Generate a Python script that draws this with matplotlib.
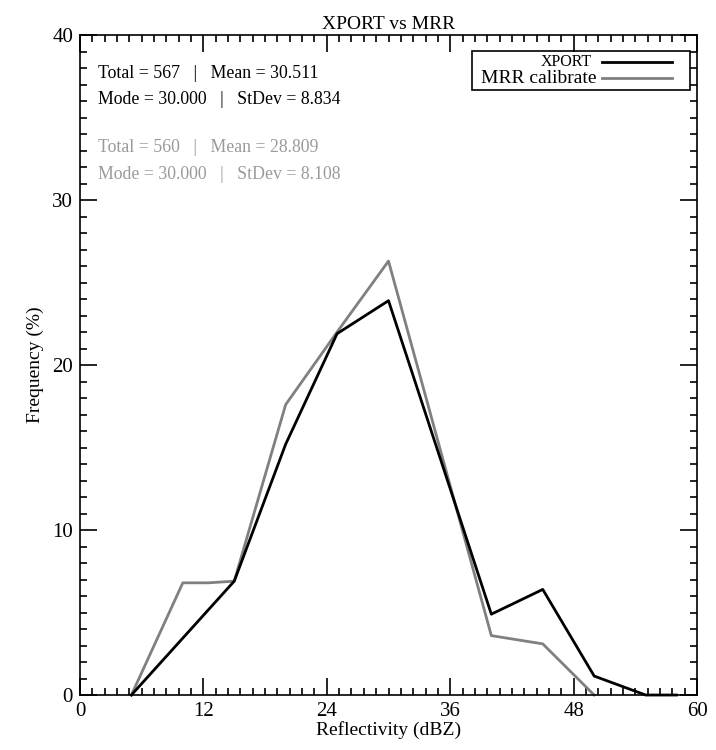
import numpy as np
import matplotlib
matplotlib.use("Agg")
import matplotlib.pyplot as plt
from matplotlib.ticker import MultipleLocator

FONT = "Liberation Serif"
matplotlib.rcParams['font.family'] = FONT
matplotlib.rcParams['axes.linewidth'] = 1.2

# XPORT (black)
x_xport = [5, 15, 20, 25, 30, 40, 45, 50, 55, 58]
f_xport = [0, 6.9, 15.2, 21.9, 23.9, 4.9, 6.4, 1.15, 0, 0]
# MRR calibrate (gray)
x_mrr = [5, 10, 12.5, 15, 20, 25, 30, 40, 45, 50]
f_mrr = [0, 6.8, 6.8, 6.9, 17.6, 22.0, 26.3, 3.6, 3.1, 0]

stats_xport = ["Total = 567   |   Mean = 30.511", "Mode = 30.000   |   StDev = 8.834"]
stats_mrr = ["Total = 560   |   Mean = 28.809", "Mode = 30.000   |   StDev = 8.108"]

GRAY = "#808080"
TXT_GRAY = "#9a9a9a"

fig = plt.figure(figsize=(7.16, 7.5), dpi=100)
ax = fig.add_axes([0.1117, 0.0733, 0.8618, 0.88])

ax.plot(x_xport, f_xport, color="black", lw=2.0, clip_on=False, zorder=3)
ax.plot(x_mrr, f_mrr, color=GRAY, lw=2.0, clip_on=False, zorder=2)

ax.set_xlim(0, 60)
ax.set_ylim(0, 40)
ax.xaxis.set_major_locator(MultipleLocator(12))
ax.xaxis.set_minor_locator(MultipleLocator(1.2))
ax.yaxis.set_major_locator(MultipleLocator(10))
ax.yaxis.set_minor_locator(MultipleLocator(1))
ax.tick_params(which="both", direction="in", top=True, right=True, width=1.2,
               labelsize=15, pad=5)
ax.tick_params(which="major", length=12)
ax.tick_params(which="minor", length=5)

ax.set_title("XPORT vs MRR", fontsize=14, pad=4)
ax.set_xlabel("Reflectivity (dBZ)", fontsize=14, labelpad=0)
ax.set_ylabel("Frequency (%)", fontsize=14, labelpad=6)

# statistics text
FS_STAT = 12.8
ax.text(0.029, 0.942, stats_xport[0], transform=ax.transAxes, fontsize=FS_STAT,
        va="center", ha="left")
ax.text(0.029, 0.903, stats_xport[1], transform=ax.transAxes, fontsize=FS_STAT,
        va="center", ha="left")
ax.text(0.029, 0.830, stats_mrr[0], transform=ax.transAxes, fontsize=FS_STAT,
        va="center", ha="left", color=TXT_GRAY)
ax.text(0.029, 0.789, stats_mrr[1], transform=ax.transAxes, fontsize=FS_STAT,
        va="center", ha="left", color=TXT_GRAY)

# legend box drawn IDL style
box = plt.Rectangle((0.635, 0.916), 0.353, 0.060, transform=ax.transAxes,
                    fill=False, lw=1.2, color="black")
ax.add_patch(box)
ax.text(0.830, 0.959, "XPORT", transform=ax.transAxes, fontsize=11.5,
        ha="right", va="center")
ax.text(0.837, 0.934, "MRR calibrate", transform=ax.transAxes, fontsize=14,
        ha="right", va="center")
ax.plot([0.846, 0.959], [0.959, 0.959], transform=ax.transAxes, color="black", lw=2)
ax.plot([0.846, 0.959], [0.935, 0.935], transform=ax.transAxes, color=GRAY, lw=2)

fig.savefig("out.png", dpi=100)
